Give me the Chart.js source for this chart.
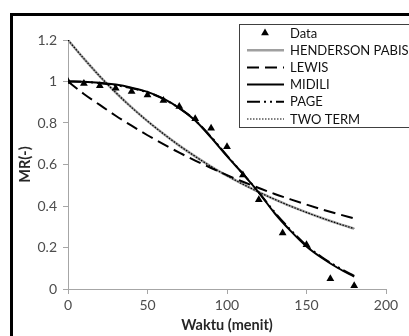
<!DOCTYPE html>
<html>
<head>
<meta charset="utf-8">
<script src="https://cdn.jsdelivr.net/npm/chart.js@4.4.1/dist/chart.umd.min.js"></script>
<style>
  html, body { margin: 0; padding: 0; background: #fff; }
  #wrap { position: relative; width: 409px; height: 336px; overflow: hidden; }
  #frame { position: absolute; left: 10px; top: 13px; right: -5px; bottom: -5px;
           border-left: 3px solid #000; border-top: 3px solid #000; pointer-events: none; }
  canvas { position: absolute; left: 0; top: 0; }
</style>
</head>
<body>
<div id="wrap">
  <canvas id="myChart" width="409" height="336"></canvas>
  <div id="frame"></div>
</div>
<script>
const ctx = document.getElementById('myChart');

// measured points
const data_time = [0, 10, 20, 30, 40, 50, 60, 70, 80, 90, 100, 110, 120, 135, 150, 165, 180];
const data_mr = [1.0, 0.99, 0.98, 0.967, 0.952, 0.935, 0.908, 0.879, 0.82, 0.775, 0.686, 0.55, 0.43, 0.27, 0.213, 0.05, 0.016];

// model curves, read every 10 minutes
const model_time = [0, 10, 20, 30, 40, 50, 60, 70, 80, 90, 100, 110, 120, 130, 140, 150, 160, 170, 180];
const henderson_values = [1.2, 1.11, 1.025, 0.947, 0.875, 0.809, 0.748, 0.691, 0.639, 0.59, 0.546, 0.505, 0.467, 0.432, 0.399, 0.369, 0.341, 0.315, 0.291];
const lewis_values = [1.0, 0.94, 0.887, 0.835, 0.787, 0.741, 0.698, 0.657, 0.619, 0.583, 0.549, 0.517, 0.487, 0.458, 0.432, 0.407, 0.383, 0.361, 0.34];
const midili_values = [1.0, 0.999, 0.994, 0.985, 0.97, 0.95, 0.917, 0.872, 0.812, 0.73, 0.64, 0.555, 0.465, 0.365, 0.28, 0.205, 0.148, 0.1, 0.06];
const page_values = [1.0, 0.998, 0.992, 0.982, 0.968, 0.948, 0.916, 0.872, 0.813, 0.733, 0.643, 0.556, 0.466, 0.37, 0.285, 0.21, 0.152, 0.104, 0.063];
const twoterm_values = [1.2, 1.11, 1.025, 0.947, 0.875, 0.809, 0.748, 0.691, 0.639, 0.59, 0.546, 0.505, 0.467, 0.432, 0.399, 0.369, 0.341, 0.315, 0.291];

const x_ticks = [0, 50, 100, 150, 200];
const y_ticks = [0, 0.2, 0.4, 0.6, 0.8, 1, 1.2];

const toPoints = (xs, ys) => xs.map((x, i) => ({x: x, y: ys[i]}));

const curve = (label, values, color, width, dash) => ({
    label: label,
    data: toPoints(model_time, values),
    showLine: true,
    borderColor: color,
    borderWidth: width,
    borderDash: dash,
    pointRadius: 0,
    fill: false,
    cubicInterpolationMode: 'monotone'
});

const data_dataset = {
    label: 'Data',
    data: toPoints(data_time, data_mr),
    showLine: false,
    pointStyle: 'triangle',
    pointRadius: 4.5,
    backgroundColor: '#000',
    borderColor: '#000',
    borderWidth: 0
};

const datasets = [
    data_dataset,
    curve('TWO TERM', twoterm_values, '#000', 1.2, [1.5, 1.5]),
    curve('MIDILI', midili_values, '#000', 2, []),
    curve('PAGE', page_values, '#000', 2, [13, 4, 2, 4, 2, 4]),
    curve('LEWIS', lewis_values, '#000', 2, [12, 6]),
    curve('HENDERSON PABIS', henderson_values, '#a0a0a0', 2.5, [])
];

const legend_order = ['Data', 'HENDERSON PABIS', 'LEWIS', 'MIDILI', 'PAGE', 'TWO TERM'];

// legend box drawn inside the plot, like the original
const boxLegend = {
    id: 'boxLegend',
    afterDraw(chart) {
        const c = chart.ctx;
        const left = 239.5, top = 24.5, w = 175, h = 103;
        c.save();
        c.fillStyle = '#fff';
        c.fillRect(left, top, w, h);
        c.strokeStyle = '#404040';
        c.lineWidth = 1;
        c.strokeRect(left, top, w, h);
        c.font = '13px Lato, sans-serif';
        c.textBaseline = 'middle';
        c.textAlign = 'left';
        legend_order.forEach((name, i) => {
            const ds = chart.data.datasets.find(d => d.label === name);
            const y = 33 + i * 17.2;
            if (name === 'Data') {
                c.fillStyle = '#000';
                const r = 4.5;
                c.beginPath();
                c.moveTo(265, y - r);
                c.lineTo(265 + r * 0.866, y + r * 0.5);
                c.lineTo(265 - r * 0.866, y + r * 0.5);
                c.closePath();
                c.fill();
            } else {
                c.strokeStyle = ds.borderColor;
                c.lineWidth = ds.borderWidth;
                c.setLineDash(ds.borderDash);
                c.beginPath();
                c.moveTo(247, y);
                c.lineTo(284, y);
                c.stroke();
                c.setLineDash([]);
            }
            c.fillStyle = '#111';
            c.fillText(name, 290, y + 0.5);
        });
        c.restore();
    }
};

const axis_color = '#a6a6a6';
const tick_font = {family: 'Lato, sans-serif', size: 14};
const title_font = {family: 'Lato, sans-serif', size: 14.5, weight: 'bold'};

const myChart = new Chart(ctx, {
    type: 'scatter',
    data: {datasets: datasets},
    options: {
        responsive: false,
        animation: false,
        layout: {padding: {left: 14, top: 40, right: 23, bottom: 0}},
        plugins: {legend: {display: false}, tooltip: {enabled: false}},
        scales: {
            x: {
                type: 'linear',
                min: 0,
                max: 200,
                afterBuildTicks: s => { s.ticks = x_ticks.map(v => ({value: v})); },
                afterFit: s => { s.height = 47; },
                grid: {drawOnChartArea: false, drawTicks: true, tickLength: 5, color: axis_color},
                border: {color: axis_color, width: 1},
                ticks: {color: '#4d4d4d', font: tick_font, padding: 3, maxRotation: 0},
                title: {display: true, text: 'Waktu (menit)', color: '#262626',
                        font: title_font, padding: {top: 0, bottom: 2}}
            },
            y: {
                min: 0,
                max: 1.2,
                afterBuildTicks: s => { s.ticks = y_ticks.map(v => ({value: v})); },
                afterFit: s => { s.width = 54; },
                grid: {drawOnChartArea: false, drawTicks: true, tickLength: 5, color: axis_color},
                border: {color: axis_color, width: 1},
                ticks: {color: '#4d4d4d', font: tick_font, padding: 6,
                        callback: v => String(Math.round(v * 10) / 10)},
                title: {display: true, text: 'MR(-)', color: '#262626',
                        font: title_font, padding: {top: 3, bottom: 0}}
            }
        }
    },
    plugins: [boxLegend]
});
</script>
</body>
</html>
